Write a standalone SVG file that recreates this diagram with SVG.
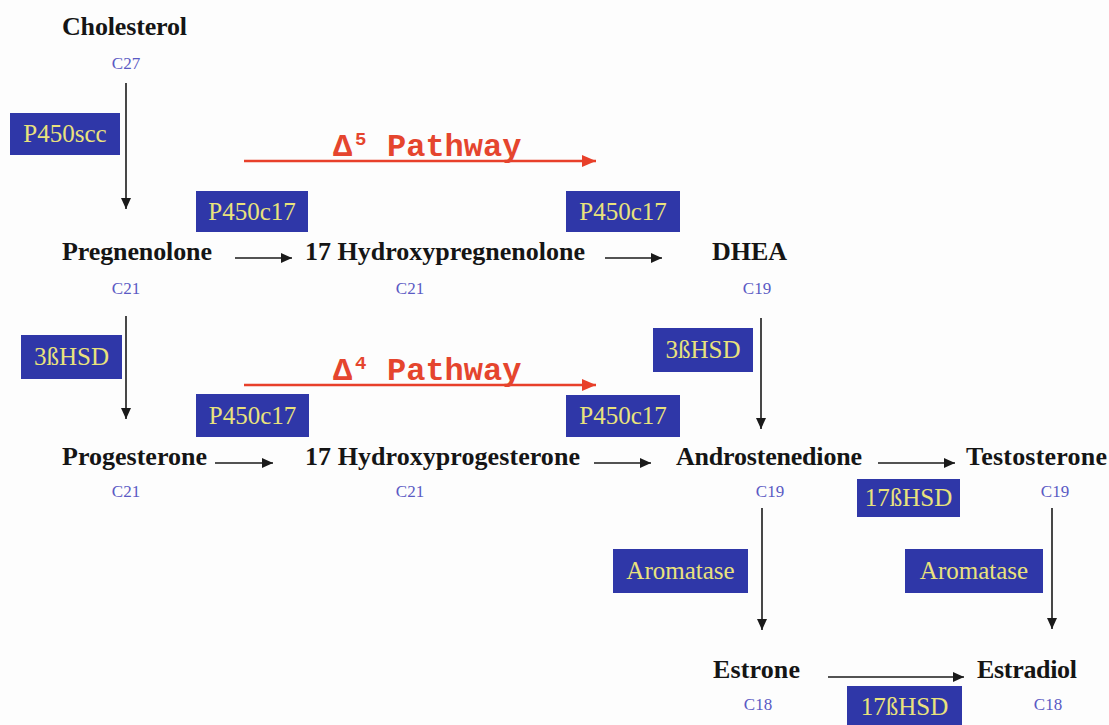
<svg xmlns="http://www.w3.org/2000/svg" width="1109" height="725" viewBox="0 0 1109 725">
<style>
.m{font-family:"Liberation Serif","Times New Roman",serif;font-weight:bold;font-size:26px;fill:#151515}
.c{font-family:"Liberation Serif","Times New Roman",serif;font-size:17px;fill:#5a5ac4;text-anchor:middle}
.b{fill:#2f37a8}
.e{font-family:"Liberation Serif","Times New Roman",serif;font-size:25px;fill:#e9e27c;text-anchor:middle}
.p{font-family:"Liberation Mono","Courier New",monospace;font-weight:bold;font-size:32px;fill:#e5452e}
.ps{font-family:"Liberation Mono","Courier New",monospace;font-weight:bold;font-size:19px;fill:#e5452e}
.k{stroke:#1a1a1a;stroke-width:1.6;fill:none}
.r{stroke:#e8402a;stroke-width:2.5;fill:none}
</style>
<defs>
<marker id="ah" viewBox="0 0 11 10" refX="11" refY="5" markerWidth="11" markerHeight="10" markerUnits="userSpaceOnUse" orient="auto"><path d="M0,0 L11,5 L0,10 z" fill="#1a1a1a"/></marker>
<marker id="ar" viewBox="0 0 14 12" refX="14" refY="6" markerWidth="14" markerHeight="12" markerUnits="userSpaceOnUse" orient="auto"><path d="M0,0 L14,6 L0,12 z" fill="#e8402a"/></marker>
</defs>
<rect width="1109" height="725" fill="#fdfdfd"/>
<g id="connectors">
<line class="k" x1="126" y1="83" x2="126" y2="209" marker-end="url(#ah)"/>
<line class="k" x1="126" y1="316" x2="126" y2="419" marker-end="url(#ah)"/>
<line class="k" x1="761" y1="318" x2="761" y2="429" marker-end="url(#ah)"/>
<line class="k" x1="762" y1="508" x2="762" y2="630" marker-end="url(#ah)"/>
<line class="k" x1="1052" y1="508" x2="1052" y2="629" marker-end="url(#ah)"/>
<line class="k" x1="235" y1="258" x2="292" y2="258" marker-end="url(#ah)"/>
<line class="k" x1="605" y1="258" x2="662" y2="258" marker-end="url(#ah)"/>
<line class="k" x1="215" y1="463" x2="273" y2="463" marker-end="url(#ah)"/>
<line class="k" x1="594" y1="463" x2="651" y2="463" marker-end="url(#ah)"/>
<line class="k" x1="878" y1="463" x2="955" y2="463" marker-end="url(#ah)"/>
<line class="k" x1="828" y1="677" x2="964" y2="677" marker-end="url(#ah)"/>
<line class="r" x1="244" y1="161" x2="596" y2="161" marker-end="url(#ar)"/>
<line class="r" x1="244" y1="385" x2="596" y2="385" marker-end="url(#ar)"/>
</g>
<g id="delta5"><text class="p" x="333" y="156">Δ</text><text class="ps" x="355" y="145">5</text><text class="p" x="387" y="156">Pathway</text></g>
<g id="delta4"><text class="p" x="333" y="380">Δ</text><text class="ps" x="355" y="369">4</text><text class="p" x="387" y="380">Pathway</text></g>
<g id="cholesterol"><text class="m" x="62" y="35" textLength="125">Cholesterol</text><text class="c" x="126" y="69">C27</text></g>
<g id="pregnenolone"><text class="m" x="62" y="260" textLength="150">Pregnenolone</text><text class="c" x="126" y="294">C21</text></g>
<g id="hydroxypregnenolone"><text class="m" x="305" y="260" textLength="280">17 Hydroxypregnenolone</text><text class="c" x="410" y="294">C21</text></g>
<g id="dhea"><text class="m" x="712" y="260" textLength="75">DHEA</text><text class="c" x="757" y="294">C19</text></g>
<g id="progesterone"><text class="m" x="62" y="465" textLength="145">Progesterone</text><text class="c" x="126" y="497">C21</text></g>
<g id="hydroxyprogesterone"><text class="m" x="305" y="465" textLength="275">17 Hydroxyprogesterone</text><text class="c" x="410" y="497">C21</text></g>
<g id="androstenedione"><text class="m" x="676" y="465" textLength="186">Androstenedione</text><text class="c" x="770" y="497">C19</text></g>
<g id="testosterone"><text class="m" x="966" y="465" textLength="141">Testosterone</text><text class="c" x="1055" y="497">C19</text></g>
<g id="estrone"><text class="m" x="713" y="678" textLength="87">Estrone</text><text class="c" x="758" y="710">C18</text></g>
<g id="estradiol"><text class="m" x="977" y="678" textLength="100">Estradiol</text><text class="c" x="1048" y="710">C18</text></g>
<g id="enz-p450scc"><rect class="b" x="10" y="113" width="110" height="42"/><text class="e" x="65" y="142">P450scc</text></g>
<g id="enz-p450c17-1"><rect class="b" x="196" y="191" width="112" height="41"/><text class="e" x="252" y="220">P450c17</text></g>
<g id="enz-p450c17-2"><rect class="b" x="566" y="191" width="114" height="41"/><text class="e" x="623" y="220">P450c17</text></g>
<g id="enz-3bhsd-1"><rect class="b" x="21" y="335" width="101" height="44"/><text class="e" x="71.5" y="365">3ßHSD</text></g>
<g id="enz-3bhsd-2"><rect class="b" x="653" y="328" width="100" height="44"/><text class="e" x="703" y="358">3ßHSD</text></g>
<g id="enz-p450c17-3"><rect class="b" x="196" y="394" width="113" height="43"/><text class="e" x="252.5" y="424">P450c17</text></g>
<g id="enz-p450c17-4"><rect class="b" x="566" y="395" width="114" height="42"/><text class="e" x="623" y="424">P450c17</text></g>
<g id="enz-17bhsd-1"><rect class="b" x="857" y="479" width="103" height="38"/><text class="e" x="908.5" y="506">17ßHSD</text></g>
<g id="enz-aromatase-1"><rect class="b" x="613" y="549" width="135" height="44"/><text class="e" x="680.5" y="579">Aromatase</text></g>
<g id="enz-aromatase-2"><rect class="b" x="905" y="549" width="138" height="44"/><text class="e" x="974" y="579">Aromatase</text></g>
<g id="enz-17bhsd-2"><rect class="b" x="847" y="686" width="115" height="40"/><text class="e" x="904.5" y="715">17ßHSD</text></g>
</svg>
